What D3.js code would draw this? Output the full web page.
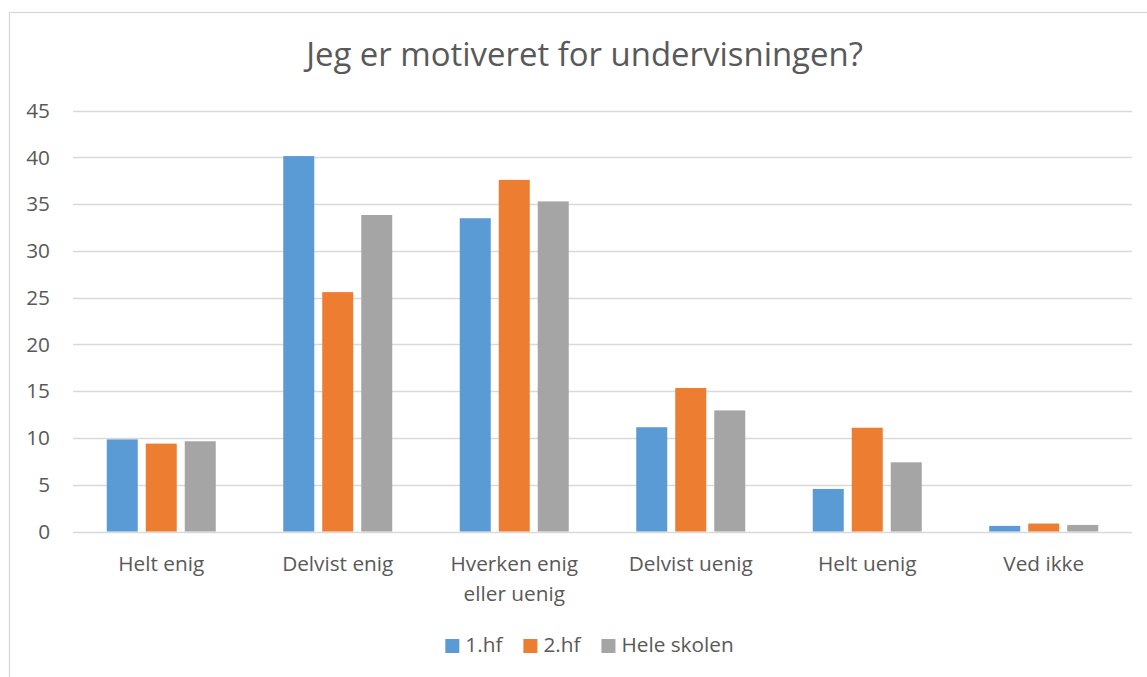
<!DOCTYPE html>
<html>
<head>
<meta charset="utf-8">
<script src="https://cdn.jsdelivr.net/npm/d3@7"></script>
<style>
  body { margin: 0; background: #fff; }
  svg { display: block; font-family: "Open Sans", sans-serif; }
</style>
</head>
<body>
<div class="main-area"></div>
<script>
// data
const categories = ["Helt enig", "Delvist enig", "Hverken enig eller uenig", "Delvist uenig", "Helt uenig", "Ved ikke"];
const seriesNames = ["1.hf", "2.hf", "Hele skolen"];
const hf1 = [9.85, 40.15, 33.5, 11.15, 4.55, 0.6];
const hf2 = [9.4, 25.6, 37.6, 15.35, 11.1, 0.85];
const heleSkolen = [9.65, 33.85, 35.3, 12.95, 7.4, 0.7];
const yTicks = [0, 5, 10, 15, 20, 25, 30, 35, 40, 45];
const title = "Jeg er motiveret for undervisningen?";

const colors = ["#5b9bd5", "#ed7d31", "#a5a5a5"];
const textColor = "#595959";
const gridColor = "#d9d9d9";

const width = 1147, height = 677;
const margin = {left: 73, right: 15, top: 110.7, bottom: 145.5};

const rows = categories.map((c, i) => ({cat: c, values: [hf1[i], hf2[i], heleSkolen[i]]}));

const svg = d3.select('.main-area')
  .append('svg')
  .attr('width', width)
  .attr('height', height);

// chart frame (right/bottom edges fall outside the picture)
svg.append('rect')
  .attr('x', 9.5).attr('y', 12.5)
  .attr('width', 1200).attr('height', 700)
  .attr('fill', 'none')
  .attr('stroke', gridColor)
  .attr('stroke-width', 1.3);

const x0 = d3.scaleBand()
  .domain(categories)
  .range([margin.left, width - margin.right])
  .paddingInner(0.3824)
  .paddingOuter(0.1912);

const x1 = d3.scaleBand()
  .domain(seriesNames)
  .range([0, x0.bandwidth()])
  .paddingInner(0.205);

const y = d3.scaleLinear()
  .domain([0, 45])
  .range([height - margin.bottom, margin.top]);

// measure helper so text widths match the reference
function fitSize(str, targetWidth) {
  const t = svg.append('text').attr('font-size', 20).text(str);
  const w = t.node().getComputedTextLength();
  t.remove();
  return 20 * targetWidth / w;
}
const labelSize = fitSize("Helt enig", 86);
const titleSize = fitSize(title, 557);

// gridlines
svg.append('g')
  .selectAll('line')
  .data(yTicks)
  .join('line')
  .attr('x1', margin.left)
  .attr('x2', width - margin.right)
  .attr('y1', d => Math.round(y(d)) + 0.5)
  .attr('y2', d => Math.round(y(d)) + 0.5)
  .attr('stroke', gridColor)
  .attr('stroke-width', 1.3);

// y axis labels
const yAxis = svg.append('g')
  .attr('transform', `translate(${margin.left},0)`)
  .call(d3.axisLeft(y).tickValues(yTicks).tickSize(0).tickPadding(23));
yAxis.select('.domain').remove();
yAxis.selectAll('text')
  .attr('fill', textColor)
  .attr('font-size', labelSize)
  .attr('font-family', '"Open Sans", sans-serif');

// bars
svg.append('g')
  .selectAll('g')
  .data(rows)
  .join('g')
  .attr('transform', d => `translate(${x0(d.cat)},0)`)
  .selectAll('rect')
  .data(d => d.values.map((v, i) => ({key: seriesNames[i], value: v, i})))
  .join('rect')
  .attr('x', d => x1(d.key))
  .attr('width', x1.bandwidth())
  .attr('y', d => y(d.value))
  .attr('height', d => y(0) - y(d.value))
  .attr('fill', d => colors[d.i]);

// category labels, wrapped when wider than the band
const catG = svg.append('g');
rows.forEach(d => {
  const cx = x0(d.cat) + x0.bandwidth() / 2;
  const t = catG.append('text')
    .attr('x', cx).attr('y', 571)
    .attr('text-anchor', 'middle')
    .attr('font-size', labelSize)
    .attr('fill', textColor);
  const words = d.cat.split(' ');
  let line = [];
  let tspan = t.append('tspan').attr('x', cx).attr('dy', 0);
  let lineNo = 0;
  words.forEach(w => {
    line.push(w);
    tspan.text(line.join(' '));
    if (tspan.node().getComputedTextLength() > 150 && line.length > 1) {
      line.pop();
      tspan.text(line.join(' '));
      line = [w];
      lineNo++;
      tspan = t.append('tspan').attr('x', cx).attr('dy', 30).text(w);
    }
  });
});

// title
svg.append('text')
  .attr('x', 584.5)
  .attr('y', 66)
  .attr('text-anchor', 'middle')
  .attr('font-size', titleSize)
  .attr('fill', textColor)
  .text(title);

// legend
const legend = svg.append('g');
let lx = 0;
seriesNames.forEach((s, i) => {
  const g = legend.append('g').attr('transform', `translate(${lx},0)`);
  g.append('rect')
    .attr('x', 0).attr('y', 639)
    .attr('width', 14).attr('height', 14)
    .attr('fill', colors[i]);
  const t = g.append('text')
    .attr('x', 20).attr('y', 652)
    .attr('font-size', labelSize)
    .attr('fill', textColor)
    .text(s);
  lx += 20 + t.node().getComputedTextLength() + 21;
});
const legendW = lx - 21;
legend.attr('transform', `translate(${589.5 - legendW / 2},0)`);
</script>
</body>
</html>
